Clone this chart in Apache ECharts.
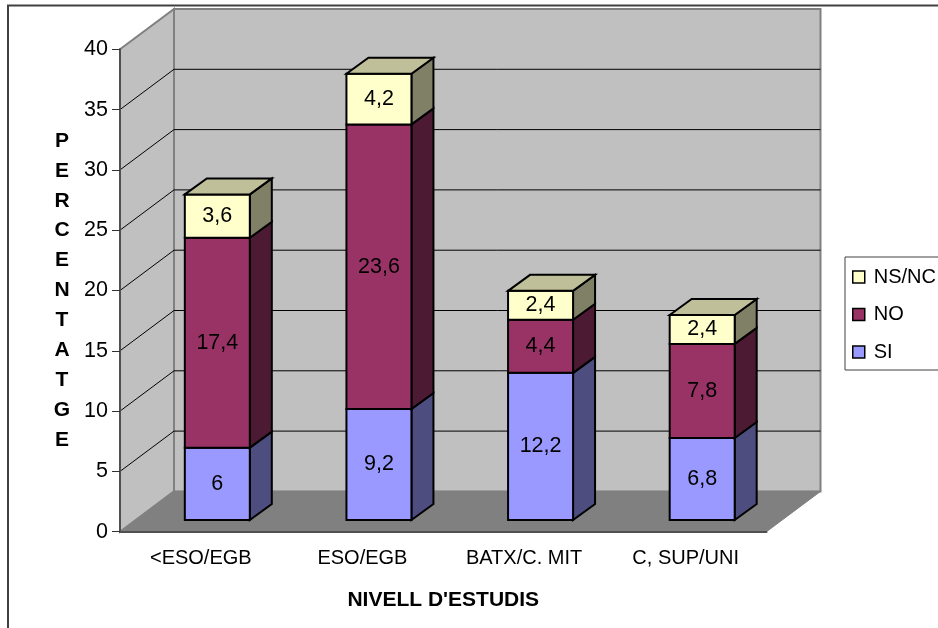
<!DOCTYPE html>
<html>
<head>
<meta charset="utf-8">
<style>html,body{margin:0;padding:0;background:#fff}#c{width:938px;height:628px}</style>
<script src="https://cdn.jsdelivr.net/npm/echarts@6/dist/echarts.min.js"></script>
</head>
<body>
<div id="c"></div>
<script>
const categories = ['<ESO/EGB', 'ESO/EGB', 'BATX/C. MIT', 'C, SUP/UNI'];
const si = [6, 9.2, 12.2, 6.8];
const no = [17.4, 23.6, 4.4, 7.8];
const nsnc = [3.6, 4.2, 2.4, 2.4];
const ticks = [0, 5, 10, 15, 20, 25, 30, 35, 40];

const FONT = '"Liberation Sans", Arial, sans-serif';
const WALL = [54, -40.3];     // projection of the full chart depth
const NEAR = [16.5, -11.7];   // front face of the bars
const DEPTH = [22, -16];      // depth of each bar
const BAR_W = 65;

function wallItem(params, api) {
  const g = params.coordSys;
  const x0 = g.x, x1 = g.x + g.width;
  const y0 = api.coord([0, 0])[1], yT = api.coord([0, 40])[1];
  const dx = WALL[0], dy = WALL[1];
  const border = { stroke: '#808080', lineWidth: 2, lineJoin: 'miter' };
  return { type: 'group', children: [
    { type: 'rect', shape: { x: x0 + dx, y: yT + dy, width: g.width, height: y0 - yT },
      style: Object.assign({ fill: '#C0C0C0' }, border) },
    { type: 'polygon', shape: { points: [[x0, yT], [x0 + dx, yT + dy], [x0 + dx, y0 + dy], [x0, y0]] },
      style: Object.assign({ fill: '#C0C0C0' }, border) },
    { type: 'polygon', shape: { points: [[x0, y0], [x0 + dx, y0 + dy], [x1 + dx, y0 + dy], [x1, y0]] },
      style: { fill: '#808080', stroke: '#808080', lineWidth: 1 } }
  ] };
}

function gridItem(params, api) {
  const g = params.coordSys;
  const v = api.value(1);
  if (v === 0 || v === 40) return { type: 'group', children: [] };
  const y = api.coord([0, v])[1];
  const x0 = g.x, dx = WALL[0], dy = WALL[1];
  const st = { stroke: '#000', lineWidth: 1 };
  return { type: 'group', children: [
    { type: 'line', shape: { x1: x0, y1: y, x2: x0 + dx, y2: y + dy }, style: st },
    { type: 'line', shape: { x1: x0 + dx, y1: y + dy, x2: x0 + dx + g.width, y2: y + dy }, style: st }
  ] };
}

function shade(hex, f) {
  const n = parseInt(hex.slice(1), 16);
  const c = [n >> 16, (n >> 8) & 255, n & 255].map(v => Math.round(v * f));
  return 'rgb(' + c.join(',') + ')';
}

function barItem(isTop) {
  return function (params, api) {
    const i = api.value(0), base = api.value(1), val = api.value(2);
    const color = api.visual('color');
    const a = api.coord([i, base]), b = api.coord([i, base + val]);
    const cx = a[0] + NEAR[0];
    const l = cx - BAR_W / 2, r = cx + BAR_W / 2;
    const yb = a[1] + NEAR[1], yt = b[1] + NEAR[1];
    const dx = DEPTH[0], dy = DEPTH[1];
    const st = { stroke: '#000', lineWidth: 2, lineJoin: 'miter' };
    const kids = [
      { type: 'polygon', shape: { points: [[r, yb], [r + dx, yb + dy], [r + dx, yt + dy], [r, yt]] },
        style: Object.assign({ fill: shade(color, 0.5) }, st) },
      { type: 'rect', shape: { x: l, y: yt, width: BAR_W, height: yb - yt },
        style: Object.assign({ fill: color }, st) }
    ];
    if (isTop) {
      kids.push({ type: 'polygon', shape: { points: [[l, yt], [l + dx, yt + dy], [r + dx, yt + dy], [r, yt]] },
        style: Object.assign({ fill: '#BFBF99' }, st) });
    }
    kids.push({ type: 'text', style: {
      x: cx, y: (yt + yb) / 2, text: String(val).replace('.', ','),
      fill: '#000', font: '21.5px ' + FONT, align: 'center', verticalAlign: 'middle' } });
    return { type: 'group', children: kids };
  };
}

const stackData = (vals, bases) => vals.map((v, i) => [i, bases.reduce((s, b) => s + b[i], 0), v]);

const option = {
  animation: false,
  backgroundColor: '#fff',
  textStyle: { fontFamily: FONT },
  graphic: [{ type: 'rect', silent: true, z: 100,
    shape: { x: 8, y: 5.5, width: 1000, height: 700 },
    style: { fill: 'none', stroke: '#404040', lineWidth: 2 } }],
  grid: { left: 120, right: 171.5, top: 49.3, bottom: 96.3, containLabel: false },
  legend: {
    orient: 'vertical', left: 845, top: 257, align: 'left',
    padding: [8.5, 30, 6.5, 7], itemGap: 14.5, itemWidth: 12, itemHeight: 12, itemStyle: { borderColor: '#000', borderWidth: 1.5 },
    borderColor: '#404040', borderWidth: 1, borderRadius: 0, icon: 'rect',
    textStyle: { fontSize: 20, lineHeight: 23, color: '#000', fontFamily: FONT, padding: [0, 0, 0, 4] },
    data: ['NS/NC', 'NO', 'SI']
  },
  xAxis: {
    type: 'category', data: categories, z: 5,
    name: "NIVELL D'ESTUDIS", nameLocation: 'middle', nameGap: 58,
    nameTextStyle: { fontSize: 21, fontWeight: 'bold', color: '#000', fontFamily: FONT },
    axisLine: { lineStyle: { color: '#505050', width: 2 } },
    axisTick: { length: 8, lineStyle: { color: '#303030', width: 1 } },
    axisLabel: { fontSize: 20, color: '#000', margin: 17, fontFamily: FONT, interval: 0 },
    splitLine: { show: false }
  },
  yAxis: {
    type: 'value', min: 0, max: 40, interval: 5, z: 5,
    name: 'P\nE\nR\nC\nE\nN\nT\nA\nT\nG\nE', nameLocation: 'middle', nameGap: 58, nameRotate: 0,
    nameTextStyle: { fontSize: 21, fontWeight: 'bold', color: '#000', lineHeight: 29.9, align: 'center', verticalAlign: 'middle', fontFamily: FONT, padding: [2, 0, 0, 0] },
    axisLine: { show: true, lineStyle: { color: '#505050', width: 2 } },
    axisTick: { show: true, length: 8, lineStyle: { color: '#303030', width: 1 } },
    axisLabel: { fontSize: 21.5, color: '#000', margin: 12, fontFamily: FONT },
    splitLine: { show: false }
  },
  series: [
    { type: 'custom', name: 'wall', silent: true, renderItem: wallItem, data: [[0, 0]], encode: { x: 0, y: 1 } },
    { type: 'custom', name: 'grid', silent: true, renderItem: gridItem, data: ticks.map(t => [0, t]), encode: { x: 0, y: 1 } },
    { type: 'custom', name: 'SI', renderItem: barItem(false), itemStyle: { color: '#9999FF' },
      data: stackData(si, []), encode: { x: 0, y: 1 } },
    { type: 'custom', name: 'NO', renderItem: barItem(false), itemStyle: { color: '#993366' },
      data: stackData(no, [si]), encode: { x: 0, y: 1 } },
    { type: 'custom', name: 'NS/NC', renderItem: barItem(true), itemStyle: { color: '#FFFFCC' },
      data: stackData(nsnc, [si, no]), encode: { x: 0, y: 1 } }
  ]
};
echarts.init(document.getElementById('c'), null, { renderer: 'canvas' }).setOption(option);
</script>
</body>
</html>
